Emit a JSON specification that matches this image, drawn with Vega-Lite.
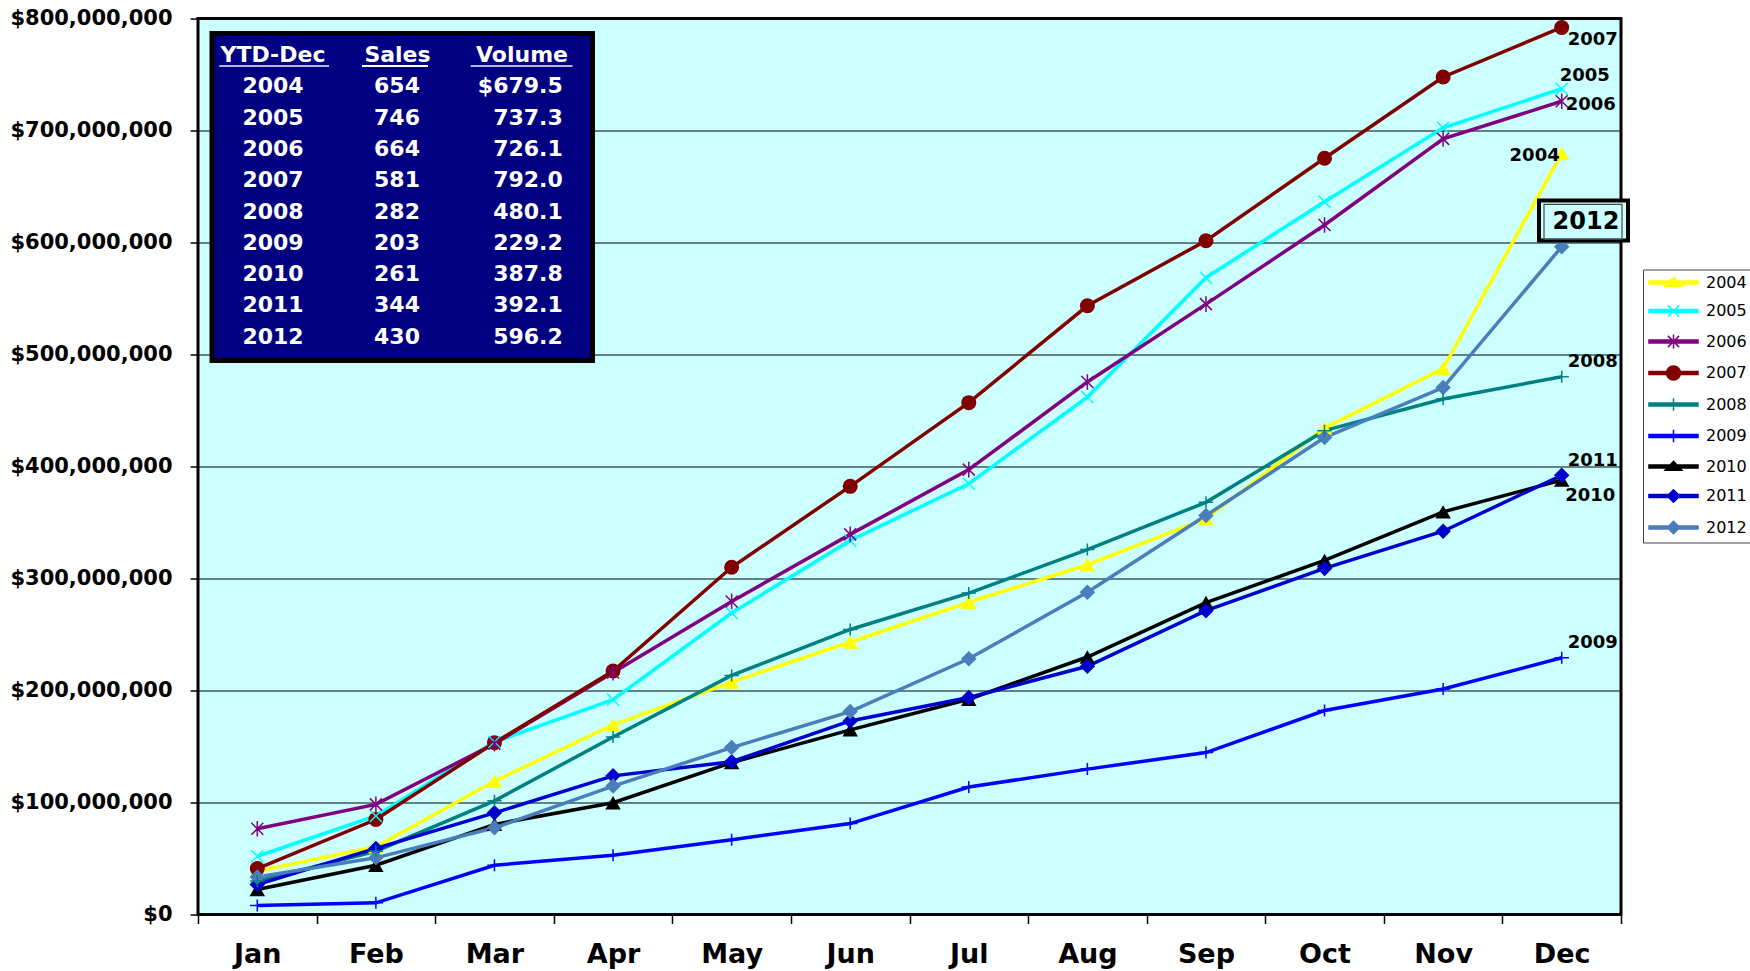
{
  "$schema": "https://vega.github.io/schema/vega-lite/v6.json",
  "width": 1423,
  "height": 896,
  "autosize": {"type": "none"},
  "padding": {"left": 198, "top": 18.5, "right": 129, "bottom": 56.5},
  "background": "#ffffff",
  "config": {
    "view": {"fill": "#CCFFFF", "stroke": "#000000", "strokeWidth": 3},
    "font": "DejaVu Sans"
  },
  "datasets": {
    "sales": [
      {"Month": "Jan", "Year": "2004", "Volume": 38700000}, {"Month": "Feb", "Year": "2004", "Volume": 60500000}, {"Month": "Mar", "Year": "2004", "Volume": 119000000}, {"Month": "Apr", "Year": "2004", "Volume": 169300000}, {"Month": "May", "Year": "2004", "Volume": 207500000}, {"Month": "Jun", "Year": "2004", "Volume": 243300000}, {"Month": "Jul", "Year": "2004", "Volume": 278800000}, {"Month": "Aug", "Year": "2004", "Volume": 312300000}, {"Month": "Sep", "Year": "2004", "Volume": 353500000}, {"Month": "Oct", "Year": "2004", "Volume": 434300000}, {"Month": "Nov", "Year": "2004", "Volume": 487500000}, {"Month": "Dec", "Year": "2004", "Volume": 679500000},
      {"Month": "Jan", "Year": "2005", "Volume": 52000000}, {"Month": "Feb", "Year": "2005", "Volume": 88000000}, {"Month": "Mar", "Year": "2005", "Volume": 154000000}, {"Month": "Apr", "Year": "2005", "Volume": 191900000}, {"Month": "May", "Year": "2005", "Volume": 269200000}, {"Month": "Jun", "Year": "2005", "Volume": 334000000}, {"Month": "Jul", "Year": "2005", "Volume": 384600000}, {"Month": "Aug", "Year": "2005", "Volume": 462000000}, {"Month": "Sep", "Year": "2005", "Volume": 568600000}, {"Month": "Oct", "Year": "2005", "Volume": 636400000}, {"Month": "Nov", "Year": "2005", "Volume": 702400000}, {"Month": "Dec", "Year": "2005", "Volume": 737300000},
      {"Month": "Jan", "Year": "2006", "Volume": 76500000}, {"Month": "Feb", "Year": "2006", "Volume": 98300000}, {"Month": "Mar", "Year": "2006", "Volume": 152500000}, {"Month": "Apr", "Year": "2006", "Volume": 216000000}, {"Month": "May", "Year": "2006", "Volume": 279400000}, {"Month": "Jun", "Year": "2006", "Volume": 339400000}, {"Month": "Jul", "Year": "2006", "Volume": 397200000}, {"Month": "Aug", "Year": "2006", "Volume": 475500000}, {"Month": "Sep", "Year": "2006", "Volume": 545000000}, {"Month": "Oct", "Year": "2006", "Volume": 615600000}, {"Month": "Nov", "Year": "2006", "Volume": 692500000}, {"Month": "Dec", "Year": "2006", "Volume": 726100000},
      {"Month": "Jan", "Year": "2007", "Volume": 41000000}, {"Month": "Feb", "Year": "2007", "Volume": 84800000}, {"Month": "Mar", "Year": "2007", "Volume": 153300000}, {"Month": "Apr", "Year": "2007", "Volume": 217400000}, {"Month": "May", "Year": "2007", "Volume": 310000000}, {"Month": "Jun", "Year": "2007", "Volume": 382300000}, {"Month": "Jul", "Year": "2007", "Volume": 457000000}, {"Month": "Aug", "Year": "2007", "Volume": 543500000}, {"Month": "Sep", "Year": "2007", "Volume": 601600000}, {"Month": "Oct", "Year": "2007", "Volume": 675200000}, {"Month": "Nov", "Year": "2007", "Volume": 747800000}, {"Month": "Dec", "Year": "2007", "Volume": 792000000},
      {"Month": "Jan", "Year": "2008", "Volume": 30000000}, {"Month": "Feb", "Year": "2008", "Volume": 56500000}, {"Month": "Mar", "Year": "2008", "Volume": 101500000}, {"Month": "Apr", "Year": "2008", "Volume": 158500000}, {"Month": "May", "Year": "2008", "Volume": 213500000}, {"Month": "Jun", "Year": "2008", "Volume": 254500000}, {"Month": "Jul", "Year": "2008", "Volume": 287000000}, {"Month": "Aug", "Year": "2008", "Volume": 325800000}, {"Month": "Sep", "Year": "2008", "Volume": 368000000}, {"Month": "Oct", "Year": "2008", "Volume": 432000000}, {"Month": "Nov", "Year": "2008", "Volume": 460300000}, {"Month": "Dec", "Year": "2008", "Volume": 480100000},
      {"Month": "Jan", "Year": "2009", "Volume": 8000000}, {"Month": "Feb", "Year": "2009", "Volume": 10400000}, {"Month": "Mar", "Year": "2009", "Volume": 44000000}, {"Month": "Apr", "Year": "2009", "Volume": 53000000}, {"Month": "May", "Year": "2009", "Volume": 66800000}, {"Month": "Jun", "Year": "2009", "Volume": 81200000}, {"Month": "Jul", "Year": "2009", "Volume": 113800000}, {"Month": "Aug", "Year": "2009", "Volume": 129800000}, {"Month": "Sep", "Year": "2009", "Volume": 144600000}, {"Month": "Oct", "Year": "2009", "Volume": 182100000}, {"Month": "Nov", "Year": "2009", "Volume": 201300000}, {"Month": "Dec", "Year": "2009", "Volume": 229200000},
      {"Month": "Jan", "Year": "2010", "Volume": 22300000}, {"Month": "Feb", "Year": "2010", "Volume": 44000000}, {"Month": "Mar", "Year": "2010", "Volume": 80500000}, {"Month": "Apr", "Year": "2010", "Volume": 99800000}, {"Month": "May", "Year": "2010", "Volume": 135600000}, {"Month": "Jun", "Year": "2010", "Volume": 164900000}, {"Month": "Jul", "Year": "2010", "Volume": 192200000}, {"Month": "Aug", "Year": "2010", "Volume": 229900000}, {"Month": "Sep", "Year": "2010", "Volume": 278500000}, {"Month": "Oct", "Year": "2010", "Volume": 316200000}, {"Month": "Nov", "Year": "2010", "Volume": 359500000}, {"Month": "Dec", "Year": "2010", "Volume": 387800000},
      {"Month": "Jan", "Year": "2011", "Volume": 26800000}, {"Month": "Feb", "Year": "2011", "Volume": 59000000}, {"Month": "Mar", "Year": "2011", "Volume": 90800000}, {"Month": "Apr", "Year": "2011", "Volume": 123800000}, {"Month": "May", "Year": "2011", "Volume": 136400000}, {"Month": "Jun", "Year": "2011", "Volume": 172800000}, {"Month": "Jul", "Year": "2011", "Volume": 193700000}, {"Month": "Aug", "Year": "2011", "Volume": 221600000}, {"Month": "Sep", "Year": "2011", "Volume": 271300000}, {"Month": "Oct", "Year": "2011", "Volume": 309000000}, {"Month": "Nov", "Year": "2011", "Volume": 342200000}, {"Month": "Dec", "Year": "2011", "Volume": 392100000},
      {"Month": "Jan", "Year": "2012", "Volume": 33500000}, {"Month": "Feb", "Year": "2012", "Volume": 50600000}, {"Month": "Mar", "Year": "2012", "Volume": 77400000}, {"Month": "Apr", "Year": "2012", "Volume": 114700000}, {"Month": "May", "Year": "2012", "Volume": 149000000}, {"Month": "Jun", "Year": "2012", "Volume": 181200000}, {"Month": "Jul", "Year": "2012", "Volume": 228300000}, {"Month": "Aug", "Year": "2012", "Volume": 287800000}, {"Month": "Sep", "Year": "2012", "Volume": 356200000}, {"Month": "Oct", "Year": "2012", "Volume": 425800000}, {"Month": "Nov", "Year": "2012", "Volume": 470500000}, {"Month": "Dec", "Year": "2012", "Volume": 596200000}
    ],
    "table": [
      {"Year": "2004", "Sales": "654", "Volume": "$679.5"},
      {"Year": "2005", "Sales": "746", "Volume": "737.3"},
      {"Year": "2006", "Sales": "664", "Volume": "726.1"},
      {"Year": "2007", "Sales": "581", "Volume": "792.0"},
      {"Year": "2008", "Sales": "282", "Volume": "480.1"},
      {"Year": "2009", "Sales": "203", "Volume": "229.2"},
      {"Year": "2010", "Sales": "261", "Volume": "387.8"},
      {"Year": "2011", "Sales": "344", "Volume": "392.1"},
      {"Year": "2012", "Sales": "430", "Volume": "596.2"}
    ],
    "columns": [
      {"Column": "YTD-Dec"}, {"Column": "Sales"}, {"Column": "Volume"}
    ]
  },
  "layer": [
    {
      "data": {"name": "sales"},
      "layer": [
        {
          "mark": {"type": "line", "strokeWidth": 3.5},
          "encoding": {
            "x": {
              "field": "Month", "type": "ordinal", "bandPosition": 0.5,
              "scale": {"type": "band", "domain": ["Jan", "Feb", "Mar", "Apr", "May", "Jun", "Jul", "Aug", "Sep", "Oct", "Nov", "Dec"], "paddingInner": 0, "paddingOuter": 0},
              "axis": {
                "title": null, "tickBand": "extent", "labelAngle": 0,
                "labelFont": "DejaVu Sans", "labelFontWeight": "bold", "labelFontSize": 27, "labelColor": "#000000",
                "labelPadding": 18, "tickSize": 9, "tickColor": "#000000", "tickWidth": 1.5,
                "domain": false, "grid": false
              }
            },
            "y": {
              "field": "Volume", "type": "quantitative",
              "scale": {"domain": [0, 800000000], "nice": false},
              "axis": {
                "title": null, "format": "$,.0f",
                "values": [0, 100000000, 200000000, 300000000, 400000000, 500000000, 600000000, 700000000, 800000000],
                "labelFont": "DejaVu Sans", "labelFontWeight": "bold", "labelFontSize": 21, "labelColor": "#000000",
                "labelPadding": 18, "tickSize": 8, "tickColor": "#000000", "tickWidth": 1.5,
                "domain": false, "grid": true, "gridColor": "#000000", "gridWidth": 1.2, "gridOpacity": 1
              }
            },
            "color": {
              "field": "Year", "type": "nominal",
              "scale": {
                "domain": ["2004", "2005", "2006", "2007", "2008", "2009", "2010", "2011", "2012"],
                "range": ["#FFFF00", "#00FFFF", "#800080", "#800000", "#008080", "#0000FF", "#000000", "#0000CC", "#4A7EBB"]
              },
              "legend": {
                "title": null, "orient": "none", "legendX": 1445, "legendY": 251,
                "labelFont": "DejaVu Sans", "labelFontSize": 16, "labelFontWeight": "normal", "labelColor": "#000000",
                "symbolSize": 196, "symbolStrokeWidth": 1.5, "labelOffset": 42, "rowPadding": 11.5,
                "padding": 5, "strokeColor": "#444444", "fillColor": "#FFFFFF",
                "encode": {
                  "symbols": {
                    "update": {
                      "shape": {"signal": "{'2004':'M-1,-0.2H6V0.2H-1ZM2.5,-0.75L3.7,0.55L1.3,0.55Z','2005':'M-1,-0.2H6V0.2H-1ZM1.7,-0.8L3.3,0.8M1.7,0.8L3.3,-0.8','2006':'M-1,-0.2H6V0.2H-1ZM1.7,-0.8L3.3,0.8M1.7,0.8L3.3,-0.8M2.5,-1L2.5,1','2007':'M-1,-0.2H6V0.2H-1ZM1.5,0A1,1,0,1,1,3.5,0A1,1,0,1,1,1.5,0Z','2008':'M-1,-0.2H6V0.2H-1ZM2.5,-0.9L2.5,0.9','2009':'M-1,-0.2H6V0.2H-1ZM2.5,-0.9L2.5,0.9','2010':'M-1,-0.2H6V0.2H-1ZM2.5,-0.75L3.7,0.55L1.3,0.55Z','2011':'M-1,-0.2H6V0.2H-1ZM2.5,-0.9L3.4,0L2.5,0.9L1.6,0Z','2012':'M-1,-0.2H6V0.2H-1ZM2.5,-0.9L3.4,0L2.5,0.9L1.6,0Z'}[datum.value]"},
                      "fill": {"scale": "color", "field": "value"},
                      "stroke": {"scale": "color", "field": "value"},
                      "strokeWidth": {"value": 1.5},
                      "opacity": {"value": 1}
                    }
                  }
                }
              }
            }
          }
        },
        {
          "transform": [{"filter": {"field": "Year", "oneOf": ["2004", "2010"]}}],
          "mark": {"type": "point", "shape": "triangle-up", "filled": true, "size": 240, "opacity": 1},
          "encoding": {
            "x": {"field": "Month", "type": "ordinal", "bandPosition": 0.5},
            "y": {"field": "Volume", "type": "quantitative"},
            "color": {"field": "Year", "type": "nominal", "legend": null}
          }
        },
        {
          "transform": [{"filter": {"field": "Year", "oneOf": ["2007"]}}],
          "mark": {"type": "point", "shape": "circle", "filled": true, "size": 225, "opacity": 1},
          "encoding": {
            "x": {"field": "Month", "type": "ordinal", "bandPosition": 0.5},
            "y": {"field": "Volume", "type": "quantitative"},
            "color": {"field": "Year", "type": "nominal", "legend": null}
          }
        },
        {
          "transform": [{"filter": {"field": "Year", "oneOf": ["2011", "2012"]}}],
          "mark": {"type": "point", "shape": "diamond", "filled": true, "size": 240, "opacity": 1},
          "encoding": {
            "x": {"field": "Month", "type": "ordinal", "bandPosition": 0.5},
            "y": {"field": "Volume", "type": "quantitative"},
            "color": {"field": "Year", "type": "nominal", "legend": null}
          }
        },
        {
          "transform": [{"filter": {"field": "Year", "oneOf": ["2005"]}}],
          "mark": {"type": "point", "shape": "M-1,-1L1,1M-1,1L1,-1", "filled": false, "size": 144, "opacity": 1, "strokeWidth": 1.5},
          "encoding": {
            "x": {"field": "Month", "type": "ordinal", "bandPosition": 0.5},
            "y": {"field": "Volume", "type": "quantitative"},
            "color": {"field": "Year", "type": "nominal", "legend": null}
          }
        },
        {
          "transform": [{"filter": {"field": "Year", "oneOf": ["2006"]}}],
          "mark": {"type": "point", "shape": "M-1,-1L1,1M-1,1L1,-1M0,-1.3L0,1.3", "filled": false, "size": 144, "opacity": 1, "strokeWidth": 1.5},
          "encoding": {
            "x": {"field": "Month", "type": "ordinal", "bandPosition": 0.5},
            "y": {"field": "Volume", "type": "quantitative"},
            "color": {"field": "Year", "type": "nominal", "legend": null}
          }
        },
        {
          "transform": [{"filter": {"field": "Year", "oneOf": ["2008", "2009"]}}],
          "mark": {"type": "point", "shape": "M-1.2,0L1.2,0M0,-1L0,1", "filled": false, "size": 144, "opacity": 1, "strokeWidth": 1.5},
          "encoding": {
            "x": {"field": "Month", "type": "ordinal", "bandPosition": 0.5},
            "y": {"field": "Volume", "type": "quantitative"},
            "color": {"field": "Year", "type": "nominal", "legend": null}
          }
        },
        {
          "transform": [{"filter": {"and": [{"field": "Month", "equal": "Dec"}, {"field": "Year", "oneOf": ["2007"]}]}}],
          "mark": {"type": "text", "align": "left", "baseline": "middle", "dx": 6, "dy": 12.5, "fontSize": 18, "fontWeight": "bold", "font": "DejaVu Sans", "fill": "#000000"},
          "encoding": {"x": {"field": "Month", "type": "ordinal", "bandPosition": 0.5}, "y": {"field": "Volume", "type": "quantitative"}, "text": {"field": "Year"}}
        },
        {
          "transform": [{"filter": {"and": [{"field": "Month", "equal": "Dec"}, {"field": "Year", "oneOf": ["2005"]}]}}],
          "mark": {"type": "text", "align": "left", "baseline": "middle", "dx": -2, "dy": -12.5, "fontSize": 18, "fontWeight": "bold", "font": "DejaVu Sans", "fill": "#000000"},
          "encoding": {"x": {"field": "Month", "type": "ordinal", "bandPosition": 0.5}, "y": {"field": "Volume", "type": "quantitative"}, "text": {"field": "Year"}}
        },
        {
          "transform": [{"filter": {"and": [{"field": "Month", "equal": "Dec"}, {"field": "Year", "oneOf": ["2006"]}]}}],
          "mark": {"type": "text", "align": "left", "baseline": "middle", "dx": 4, "dy": 4, "fontSize": 18, "fontWeight": "bold", "font": "DejaVu Sans", "fill": "#000000"},
          "encoding": {"x": {"field": "Month", "type": "ordinal", "bandPosition": 0.5}, "y": {"field": "Volume", "type": "quantitative"}, "text": {"field": "Year"}}
        },
        {
          "transform": [{"filter": {"and": [{"field": "Month", "equal": "Dec"}, {"field": "Year", "oneOf": ["2004"]}]}}],
          "mark": {"type": "text", "align": "right", "baseline": "middle", "dx": -2, "dy": 3, "fontSize": 18, "fontWeight": "bold", "font": "DejaVu Sans", "fill": "#000000"},
          "encoding": {"x": {"field": "Month", "type": "ordinal", "bandPosition": 0.5}, "y": {"field": "Volume", "type": "quantitative"}, "text": {"field": "Year"}}
        },
        {
          "transform": [{"filter": {"and": [{"field": "Month", "equal": "Dec"}, {"field": "Year", "oneOf": ["2008", "2009", "2011"]}]}}],
          "mark": {"type": "text", "align": "left", "baseline": "middle", "dx": 6, "dy": -14.5, "fontSize": 18, "fontWeight": "bold", "font": "DejaVu Sans", "fill": "#000000"},
          "encoding": {"x": {"field": "Month", "type": "ordinal", "bandPosition": 0.5}, "y": {"field": "Volume", "type": "quantitative"}, "text": {"field": "Year"}}
        },
        {
          "transform": [{"filter": {"and": [{"field": "Month", "equal": "Dec"}, {"field": "Year", "oneOf": ["2010"]}]}}],
          "mark": {"type": "text", "align": "left", "baseline": "middle", "dx": 3.5, "dy": 16, "fontSize": 18, "fontWeight": "bold", "font": "DejaVu Sans", "fill": "#000000"},
          "encoding": {"x": {"field": "Month", "type": "ordinal", "bandPosition": 0.5}, "y": {"field": "Volume", "type": "quantitative"}, "text": {"field": "Year"}}
        },
        {
          "transform": [{"filter": {"and": [{"field": "Month", "equal": "Dec"}, {"field": "Year", "oneOf": ["2012"]}]}}],
          "mark": {"type": "point", "shape": "M-2.225,-1H2.225V1H-2.225Z", "size": 1600, "filled": false, "fill": "#CCFFFF", "stroke": "#000000", "strokeWidth": 4, "opacity": 1, "xOffset": 21.8, "yOffset": -26.3},
          "encoding": {"x": {"field": "Month", "type": "ordinal", "bandPosition": 0.5}, "y": {"field": "Volume", "type": "quantitative"}}
        },
        {
          "transform": [{"filter": {"and": [{"field": "Month", "equal": "Dec"}, {"field": "Year", "oneOf": ["2012"]}]}}],
          "mark": {"type": "point", "shape": "M-1.95,-0.875H1.95V0.875H-1.95Z", "size": 1600, "filled": false, "stroke": "#444444", "strokeWidth": 1.2, "opacity": 1, "xOffset": 21.3, "yOffset": -24.8},
          "encoding": {"x": {"field": "Month", "type": "ordinal", "bandPosition": 0.5}, "y": {"field": "Volume", "type": "quantitative"}}
        },
        {
          "transform": [{"filter": {"and": [{"field": "Month", "equal": "Dec"}, {"field": "Year", "oneOf": ["2012"]}]}}],
          "mark": {"type": "text", "align": "center", "baseline": "middle", "dx": 24.3, "dy": -24.3, "fontSize": 24, "fontWeight": "bold", "font": "DejaVu Sans", "fill": "#000000"},
          "encoding": {"x": {"field": "Month", "type": "ordinal", "bandPosition": 0.5}, "y": {"field": "Volume", "type": "quantitative"}, "text": {"field": "Year"}}
        }
      ]
    },
    {
      "layer": [
        {
          "data": {"name": "columns"},
          "transform": [{"filter": "datum.Column == 'YTD-Dec'"}],
          "mark": {"type": "rect", "fill": "#000080", "stroke": "#000000", "strokeWidth": 5, "xOffset": 1.25, "x2Offset": 8.25, "yOffset": -5.85, "y2Offset": 8.15},
          "encoding": {
            "x": {"datum": "YTD-Dec", "type": "nominal", "bandPosition": 0, "scale": {"type": "band", "domain": ["YTD-Dec", "Sales", "Volume"], "range": [12.75, 386.25], "paddingInner": 0, "paddingOuter": 0}, "axis": null},
            "x2": {"datum": "Volume", "bandPosition": 1},
            "y": {"datum": "header", "type": "nominal", "bandPosition": 0, "scale": {"type": "band", "domain": ["header", "2004", "2005", "2006", "2007", "2008", "2009", "2010", "2011", "2012"], "range": [20.85, 333.85], "paddingInner": 0, "paddingOuter": 0}, "axis": null},
            "y2": {"datum": "2012", "bandPosition": 1}
          }
        },
        {
          "data": {"name": "columns"},
          "mark": {"type": "text", "align": "center", "baseline": "middle", "fontSize": 22, "fontWeight": "bold", "font": "DejaVu Sans", "fill": "#FFFFFF"},
          "encoding": {
            "x": {"field": "Column", "type": "nominal", "bandPosition": 0.5},
            "y": {"datum": "header", "type": "nominal", "bandPosition": 0.5},
            "text": {"field": "Column"}
          }
        },
        {
          "data": {"name": "columns"},
          "transform": [{"filter": "datum.Column == 'YTD-Dec'"}],
          "mark": {"type": "rule", "stroke": "#B4B4E6", "strokeWidth": 2, "xOffset": -53.7, "x2Offset": 56, "yOffset": 11},
          "encoding": {
            "x": {"field": "Column", "type": "nominal", "bandPosition": 0.5},
            "x2": {"field": "Column", "bandPosition": 0.5},
            "y": {"datum": "header", "type": "nominal", "bandPosition": 0.5}
          }
        },
        {
          "data": {"name": "columns"},
          "transform": [{"filter": "datum.Column == 'Sales'"}],
          "mark": {"type": "rule", "stroke": "#FFFFFF", "strokeWidth": 2, "xOffset": -35.5, "x2Offset": 30.5, "yOffset": 11},
          "encoding": {
            "x": {"field": "Column", "type": "nominal", "bandPosition": 0.5},
            "x2": {"field": "Column", "bandPosition": 0.5},
            "y": {"datum": "header", "type": "nominal", "bandPosition": 0.5}
          }
        },
        {
          "data": {"name": "columns"},
          "transform": [{"filter": "datum.Column == 'Volume'"}],
          "mark": {"type": "rule", "stroke": "#B4B4E6", "strokeWidth": 2, "xOffset": -51.3, "x2Offset": 50.5, "yOffset": 11},
          "encoding": {
            "x": {"field": "Column", "type": "nominal", "bandPosition": 0.5},
            "x2": {"field": "Column", "bandPosition": 0.5},
            "y": {"datum": "header", "type": "nominal", "bandPosition": 0.5}
          }
        },
        {
          "data": {"name": "table"},
          "mark": {"type": "text", "align": "center", "baseline": "middle", "fontSize": 22, "fontWeight": "bold", "font": "DejaVu Sans", "fill": "#FFFFFF"},
          "encoding": {
            "x": {"datum": "YTD-Dec", "type": "nominal", "bandPosition": 0.5},
            "y": {"field": "Year", "type": "nominal", "bandPosition": 0.5},
            "text": {"field": "Year"}
          }
        },
        {
          "data": {"name": "table"},
          "mark": {"type": "text", "align": "center", "baseline": "middle", "fontSize": 22, "fontWeight": "bold", "font": "DejaVu Sans", "fill": "#FFFFFF", "xOffset": -0.5},
          "encoding": {
            "x": {"datum": "Sales", "type": "nominal", "bandPosition": 0.5},
            "y": {"field": "Year", "type": "nominal", "bandPosition": 0.5},
            "text": {"field": "Sales"}
          }
        },
        {
          "data": {"name": "table"},
          "mark": {"type": "text", "align": "right", "baseline": "middle", "fontSize": 22, "fontWeight": "bold", "font": "DejaVu Sans", "fill": "#FFFFFF", "xOffset": -21.5},
          "encoding": {
            "x": {"datum": "Volume", "type": "nominal", "bandPosition": 1},
            "y": {"field": "Year", "type": "nominal", "bandPosition": 0.5},
            "text": {"field": "Volume"}
          }
        }
      ]
    }
  ],
  "resolve": {"scale": {"x": "independent", "y": "independent"}}
}
